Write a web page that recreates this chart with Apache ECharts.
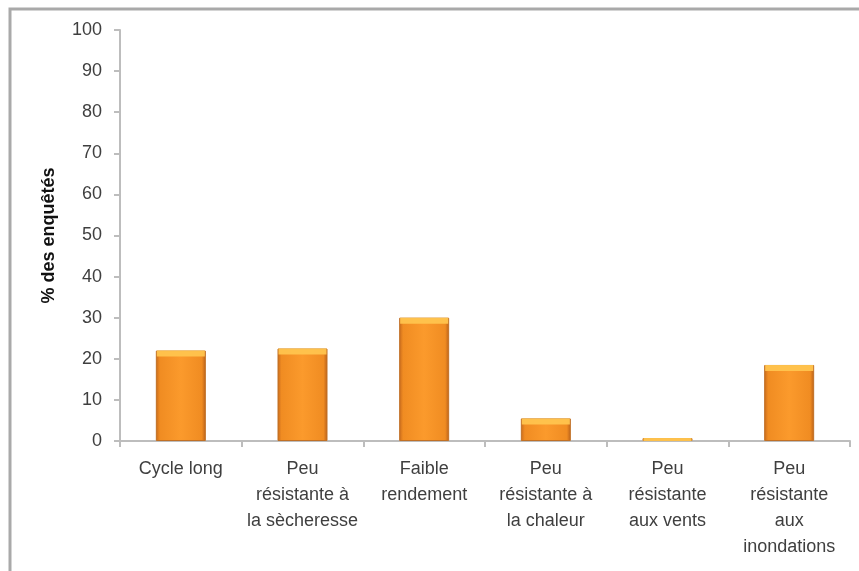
<!DOCTYPE html>
<html>
<head>
<meta charset="utf-8">
<script src="https://cdn.jsdelivr.net/npm/echarts@6/dist/echarts.min.js"></script>
<style>
  html, body { margin: 0; padding: 0; background: #fff; }
  #chart { width: 859px; height: 571px; }
</style>
</head>
<body>
<div id="chart"></div>
<script>
// Raisons de désaffection pour la variété (% des enquêtés)
const categories = [
  'Cycle long',
  'Peu\nrésistante à\nla sècheresse',
  'Faible\nrendement',
  'Peu\nrésistante à\nla chaleur',
  'Peu\nrésistante\naux vents',
  'Peu\nrésistante\naux\ninondations'
];
const values = [22, 22.5, 30, 5.5, 0.7, 18.5];
const yTicks = [0, 10, 20, 30, 40, 50, 60, 70, 80, 90, 100];
const yTitle = '% des enquêtés';

const font = '"Liberation Sans", Arial, sans-serif';
const barWidth = 50;
const pxPerUnit = 411 / 100;   // plot height / value range

const chart = echarts.init(document.getElementById('chart'), null, { renderer: 'canvas' });

// top bevel band, never taller than the bar itself
const bevel = values.map(v => ({
  value: v,
  symbolSize: [barWidth - 2, Math.min(6, v * pxPerUnit)]
}));

chart.setOption({
  animation: false,
  backgroundColor: '#ffffff',
  graphic: [{
    type: 'rect',
    shape: { x: 10, y: 9, width: 900, height: 600 },
    style: { fill: 'none', stroke: '#a9a9a9', lineWidth: 3 },
    silent: true,
    z: -1
  }],
  grid: { left: 120, right: 9, top: 30, bottom: 130, containLabel: false },
  xAxis: {
    type: 'category',
    data: categories,
    boundaryGap: true,
    axisLine: { lineStyle: { color: '#bdbdbd', width: 2 } },
    axisTick: { show: true, alignWithLabel: false, length: 6, lineStyle: { color: '#bdbdbd', width: 2 } },
    axisLabel: {
      interval: 0,
      margin: 15,
      color: '#3f3f3f',
      fontFamily: font,
      fontSize: 18,
      lineHeight: 26,
      align: 'center',
      verticalAlign: 'top'
    }
  },
  yAxis: {
    type: 'value',
    min: yTicks[0],
    max: yTicks[yTicks.length - 1],
    interval: 10,
    name: yTitle,
    nameLocation: 'middle',
    nameRotate: 90,
    nameGap: 62,
    nameTextStyle: { color: '#111', fontFamily: font, fontSize: 18, fontWeight: 'bold' },
    axisLine: { show: true, lineStyle: { color: '#bdbdbd', width: 2 } },
    axisTick: { show: true, length: 6, lineStyle: { color: '#bdbdbd', width: 2 } },
    splitLine: { show: false },
    axisLabel: {
      margin: 18,
      color: '#3f3f3f',
      fontFamily: font,
      fontSize: 18,
      formatter: v => (yTicks.indexOf(v) >= 0 ? String(v) : '')
    }
  },
  series: [
    {
      type: 'bar',
      data: values,
      barWidth: barWidth,
      itemStyle: {
        color: new echarts.graphic.LinearGradient(0, 0, 1, 0, [
          { offset: 0, color: '#c86a1c' },
          { offset: 0.08, color: '#f08c22' },
          { offset: 0.5, color: '#fb9a2c' },
          { offset: 0.92, color: '#f08c22' },
          { offset: 1, color: '#b9601a' }
        ]),
        borderColor: '#c07025',
        borderWidth: 1
      },
      z: 2
    },
    {
      type: 'pictorialBar',
      data: bevel,
      symbol: 'rect',
      symbolPosition: 'end',
      itemStyle: { color: '#ffc44e', opacity: 0.95 },
      silent: true,
      z: 3
    }
  ]
});
</script>
</body>
</html>
